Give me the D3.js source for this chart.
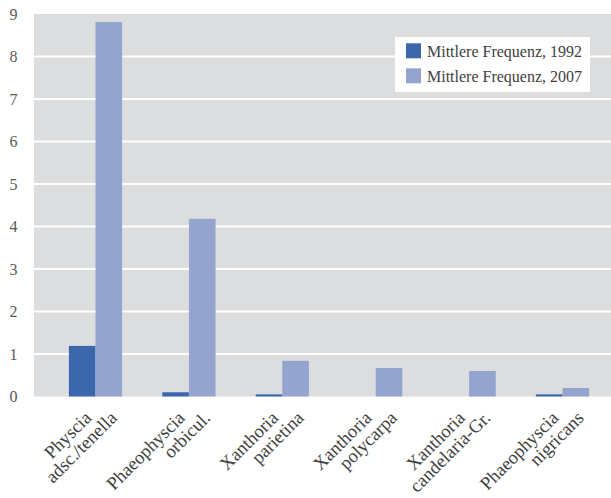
<!DOCTYPE html>
<html>
<head>
<meta charset="utf-8">
<script src="https://cdn.jsdelivr.net/npm/d3@7"></script>
<style>
  html, body { margin: 0; padding: 0; background: #ffffff; }
  svg { display: block; }
  text { font-family: "Liberation Serif", "Times New Roman", serif; }
</style>
</head>
<body>
<script>
// ---- data ----
const categories = [
  ["Physcia", "adsc./tenella"],
  ["Phaeophyscia", "orbicul."],
  ["Xanthoria", "parietina"],
  ["Xanthoria", "polycarpa"],
  ["Xanthoria", "candelaria-Gr."],
  ["Phaeophyscia", "nigricans"]
];
const seriesNames = ["Mittlere Frequenz, 1992", "Mittlere Frequenz, 2007"];
const values1992 = [1.19, 0.10, 0.05, 0, 0, 0.05];
const values2007 = [8.81, 4.18, 0.84, 0.67, 0.60, 0.20];
const yTicks = [0, 1, 2, 3, 4, 5, 6, 7, 8, 9];
const colors = ["#3d67ad", "#94a4cf"];

// ---- layout ----
const W = 611, H = 498;
const plot = { left: 34, right: 611, top: 14, bottom: 396.5 };

const svg = d3.select("body").append("svg").attr("width", W).attr("height", H);

const y = d3.scaleLinear().domain([0, 9]).range([plot.bottom, plot.top]);
const catKeys = categories.map((c, i) => i);
const x0 = d3.scaleBand().domain(catKeys).range([48.8, 609.2])
  .paddingInner(0.43).paddingOuter(0.215);
const x1 = d3.scaleBand().domain([0, 1]).range([0, x0.bandwidth()]);

// background
svg.append("rect")
  .attr("x", plot.left).attr("y", plot.top)
  .attr("width", plot.right - plot.left).attr("height", plot.bottom - plot.top)
  .attr("fill", "#dcdddf");

// gridlines
svg.append("g").selectAll("line")
  .data(yTicks.filter(t => t > 0 && t < 9))
  .join("line")
  .attr("x1", plot.left).attr("x2", plot.right)
  .attr("y1", d => y(d)).attr("y2", d => y(d))
  .attr("stroke", "#ffffff").attr("stroke-width", 2.2);

// y axis labels
const yAxis = d3.axisLeft(y).tickValues(yTicks).tickSize(0).tickPadding(0);
const yg = svg.append("g").attr("transform", "translate(17.5,0)").call(yAxis);
yg.select(".domain").remove();
yg.selectAll("text")
  .attr("font-family", "Liberation Serif, serif")
  .attr("font-size", 16).attr("fill", "#595959");

// bars
const seriesData = [values1992, values2007];
const groups = svg.append("g").selectAll("g")
  .data(catKeys).join("g")
  .attr("transform", d => `translate(${x0(d)},0)`);
groups.selectAll("rect")
  .data(i => seriesData.map((vals, s) => ({ s, v: vals[i] })))
  .join("rect")
  .attr("x", d => x1(d.s))
  .attr("width", x1.bandwidth())
  .attr("y", d => y(d.v))
  .attr("height", d => y(0) - y(d.v))
  .attr("fill", d => colors[d.s]);

// x labels (rotated -45°, line ends stepping horizontally)
const fs = 18.5, lh = 18;
const labG = svg.append("g").selectAll("g")
  .data(catKeys).join("g")
  .attr("transform", d => `translate(${x0(d) + x0.bandwidth() / 2 - 3},419) rotate(-45)`);
labG.each(function (i) {
  const g = d3.select(this);
  categories[i].forEach((t, k) => g.append("text")
    .attr("font-size", fs).attr("fill", "#404040")
    .attr("text-anchor", "end")
    .attr("x", k * lh).attr("y", k * lh)
    .text(t));
});

// legend
const lg = svg.append("g");
lg.append("rect").attr("x", 395).attr("y", 37).attr("width", 195).attr("height", 55).attr("fill", "#ffffff");
seriesNames.forEach((name, s) => {
  lg.append("rect").attr("x", 406).attr("y", 43.3 + s * 25).attr("width", 15).attr("height", 15).attr("fill", colors[s]);
  lg.append("text").attr("x", 427).attr("y", 57 + s * 25)
    .attr("font-size", 16).attr("fill", "#404040").text(name);
});
</script>
</body>
</html>
